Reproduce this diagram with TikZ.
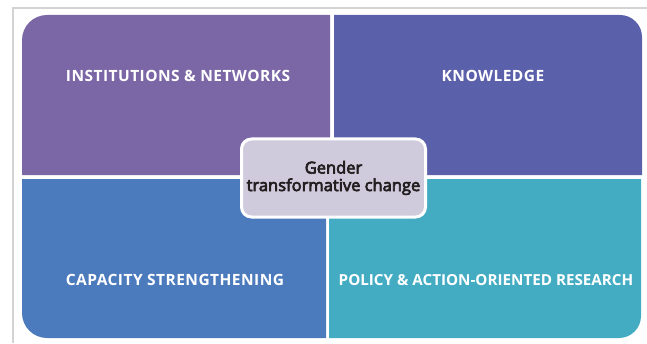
\documentclass[tikz,border=0pt]{standalone}
\usepackage{fontspec}
\setmainfont{Open Sans}
\newfontfamily\quadfont{Open Sans}[LetterSpace=3]
\newfontfamily\hubfont{Open Sans}[FakeBold=4]
\definecolor{instcol}{HTML}{7B67A6}
\definecolor{knowcol}{HTML}{5B60AB}
\definecolor{capcol}{HTML}{4C7BBD}
\definecolor{polcol}{HTML}{43ACC3}
\definecolor{hubcol}{HTML}{CFCBDC}
\definecolor{hubtext}{HTML}{231F20}
\definecolor{framecol}{HTML}{D3D3D3}
\tikzset{
  quadlabel/.style={text=white,font=\quadfont\fontsize{15.5}{18}\selectfont\bfseries},
  hubbox/.style={fill=hubcol,draw=white,line width=3pt,rounded corners=10pt,
    minimum width=184pt,minimum height=78pt,align=center,text=hubtext,
    font=\hubfont\fontsize{16.5}{17.5}\selectfont}
}
\begin{document}
\begin{tikzpicture}[x=1pt,y=1pt]
        \useasboundingbox (0,0) rectangle (647,343);
        % frame
        \draw[framecol,line width=2pt] (13,0) -- (13,335) -- (647,335);
        % the four quarters
        \fill[instcol] (330,168) -- (22,168) -- (22,303) arc[start angle=180,end angle=90,radius=25] -- (330,328) -- cycle;
        \fill[knowcol] (334,168) -- (334,328) -- (620,328) arc[start angle=90,end angle=0,radius=22] -- (642,168) -- cycle;
        \fill[capcol] (326,164) -- (22,164) -- (22,30) arc[start angle=180,end angle=270,radius=25] -- (326,5) -- cycle;
        \fill[polcol] (329,164) -- (641,164) -- (641,27) arc[start angle=0,end angle=-90,radius=22] -- (329,5) -- cycle;
        \node[quadlabel] (inst) at (178,267) {INSTITUTIONS \& NETWORKS};
        \node[quadlabel] (know) at (493,267) {KNOWLEDGE};
        \node[quadlabel] (cap) at (175,63) {CAPACITY STRENGTHENING};
        \node[quadlabel,font=\fontsize{15.2}{18}\selectfont\bfseries] (pol) at (486,63) {POLICY \& ACTION-ORIENTED RESEARCH};
        % centre
        \node[hubbox] (hub) at (333.5,165) {Gender\\transformative change};
    \end{tikzpicture}
\end{document}
